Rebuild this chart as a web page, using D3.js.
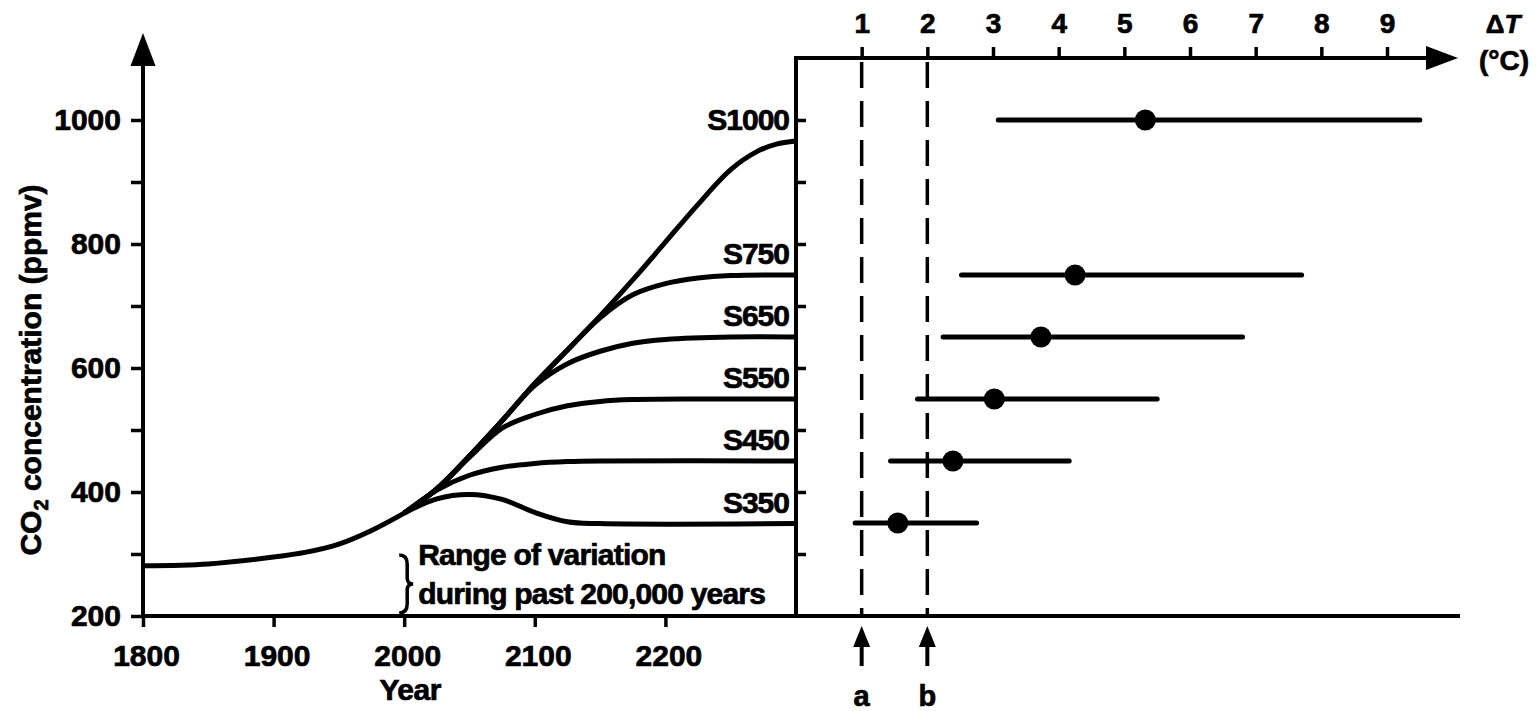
<!DOCTYPE html>
<html>
<head>
<meta charset="utf-8">
<script src="https://cdn.jsdelivr.net/npm/d3@7"></script>
<style>
  body { margin: 0; background: #fff; }
  svg { display: block; }
  text { font-family: "Liberation Sans", Arial, Helvetica, sans-serif; font-weight: bold; fill: #000; stroke: #000; stroke-width: 0.7px; }
  .axis path, .axis line { stroke: #000; stroke-width: 3.5; }
  .curve { fill: none; stroke: #000; stroke-width: 5; }
</style>
</head>
<body>
<script>
// historical concentration, ppmv
const histYears = [1800, 1850, 1900, 1925, 1950, 1975, 2000];
const histCO2 = [281, 284, 295, 303, 316, 338, 366];

// stabilisation profiles
const scenNames = ['S1000', 'S750', 'S650', 'S550', 'S450', 'S350'];
const s1000Years = [2000, 2025, 2050, 2075, 2100, 2125, 2150, 2175, 2200, 2225, 2250, 2270, 2285, 2300];
const s1000CO2 = [366, 405, 458, 515, 575, 629, 684, 742, 803, 864, 920, 949, 961, 966];
const s750Years = [2000, 2025, 2050, 2075, 2100, 2125, 2150, 2175, 2200, 2225, 2250, 2300];
const s750CO2 = [366, 405, 458, 515, 575, 629, 681, 718, 736, 745, 749, 750];
const s650Years = [2000, 2025, 2050, 2075, 2100, 2125, 2150, 2175, 2200, 2250, 2300];
const s650CO2 = [366, 405, 458, 515, 572, 607, 627, 640, 646, 650, 650];
const s550Years = [2000, 2025, 2050, 2075, 2100, 2125, 2150, 2175, 2225, 2300];
const s550CO2 = [366, 405, 456, 503, 525, 539, 546, 549, 550, 550];
const s450Years = [2000, 2025, 2050, 2075, 2100, 2125, 2150, 2300];
const s450CO2 = [366, 403, 427, 440, 446, 449, 450, 450];
const s350Years = [2000, 2025, 2050, 2075, 2100, 2125, 2150, 2300];
const s350CO2 = [366, 389, 396, 388, 367, 352, 349, 349];

// equilibrium warming ranges (deg C) at each stabilisation level
const stabLevels = [1000, 750, 650, 550, 450, 350];
const dtLow = [3.08, 2.52, 2.24, 1.85, 1.44, 0.9];
const dtBest = [5.32, 4.25, 3.73, 3.02, 2.39, 1.55];
const dtHigh = [9.5, 7.7, 6.8, 5.5, 4.16, 2.75];

// axes
const yearTicks = [1800, 1900, 2000, 2100, 2200];
const co2Ticks = [200, 300, 400, 500, 600, 700, 800, 900, 1000];
const co2Labels = ['200', '', '400', '', '600', '', '800', '', '1000'];
const boxTicks = [300, 400, 500, 600, 700, 800, 900, 1000];
const dtTicks = [1, 2, 3, 4, 5, 6, 7, 8, 9];
const markValues = [1, 2];
const markLabels = ['a', 'b'];
const braceRange = [200, 300];

const width = 1539, height = 711;
const margin = { top: 58, left: 143, bottom: 95 };

const svg = d3.select('body').append('svg').attr('width', width).attr('height', height);

const x = d3.scaleLinear().domain([1800, 2300]).range([143, 796]);
const y = d3.scaleLinear().domain([200, 1000]).range([616, 120]);
const dt = d3.scaleLinear().domain([0, 9]).range([796, 1387]);

const x0 = x.range()[0], x1 = x.range()[1];
const yBase = y(200);
const rightEnd = 1458;

// left y axis
const yAxis = svg.append('g').attr('class', 'axis')
  .attr('transform', `translate(${x0},0)`)
  .call(d3.axisLeft(y).tickValues(co2Ticks).tickSize(12).tickPadding(10)
    .tickFormat((d, i) => co2Labels[i]))
  .call(g => g.select('.domain').remove());
yAxis.selectAll('text').style('font-size', '30px');

svg.append('line').attr('x1', x0).attr('x2', x0).attr('y1', 60).attr('y2', yBase)
  .attr('stroke', '#000').attr('stroke-width', 4);
svg.append('path')
  .attr('d', `M${x0},33 L${x0 + 12.5},66 L${x0 - 12.5},66 Z`);

// bottom year axis
const xAxis = svg.append('g').attr('class', 'axis')
  .attr('transform', `translate(0,${yBase})`)
  .call(d3.axisBottom(x).tickValues(yearTicks).tickSize(11).tickPadding(18).tickFormat(d3.format('d')))
  .call(g => g.select('.domain').remove());
xAxis.selectAll('text').style('font-size', '30px').attr('dx', 3);

svg.append('line').attr('x1', x0 - 2).attr('x2', rightEnd + 2).attr('y1', yBase).attr('y2', yBase)
  .attr('stroke', '#000').attr('stroke-width', 4);

svg.append('text').attr('x', x(2000) + 6).attr('y', 700).attr('text-anchor', 'middle')
  .style('font-size', '30px').attr('letter-spacing', '-0.5').text('Year');

// y title
const yTitle = svg.append('text')
  .attr('transform', `translate(41,370) rotate(-90)`)
  .attr('text-anchor', 'middle')
  .style('font-size', '30px');
yTitle.append('tspan').text('CO');
yTitle.append('tspan').attr('dy', 7).style('font-size', '20px').text('2');
yTitle.append('tspan').attr('dy', -7).text(' concentration (ppmv)');

// concentration curves
const line = d3.line().x(d => x(d[0])).y(d => y(d[1])).curve(d3.curveCatmullRom.alpha(0.5));
const series = [
  d3.zip(s1000Years, s1000CO2),
  d3.zip(s750Years, s750CO2),
  d3.zip(s650Years, s650CO2),
  d3.zip(s550Years, s550CO2),
  d3.zip(s450Years, s450CO2),
  d3.zip(s350Years, s350CO2)
];
svg.append('path').attr('class', 'curve').attr('d', line(d3.zip(histYears, histCO2)));
svg.append('g').selectAll('path').data(series).join('path')
  .attr('class', 'curve').attr('d', line);

svg.append('g').selectAll('text').data(series).join('text')
  .attr('x', 789)
  .attr('y', d => y(d[d.length - 1][1]) - 11)
  .attr('text-anchor', 'end')
  .style('font-size', '30px').attr('letter-spacing', '-1')
  .text((d, i) => scenNames[i]);

// brace and note
const bx = x(2000) - 5;
const bTop = y(braceRange[1]) + 1, bBot = y(braceRange[0]) - 3, bMid = (bTop + bBot) / 2;
const brace = d3.path();
brace.moveTo(bx, bTop);
brace.quadraticCurveTo(bx + 8, bTop, bx + 8, bTop + 9);
brace.lineTo(bx + 8, bMid - 6);
brace.quadraticCurveTo(bx + 8, bMid, bx + 14, bMid);
brace.quadraticCurveTo(bx + 8, bMid, bx + 8, bMid + 6);
brace.lineTo(bx + 8, bBot - 9);
brace.quadraticCurveTo(bx + 8, bBot, bx, bBot);
svg.append('path').attr('d', brace.toString())
  .attr('fill', 'none').attr('stroke', '#000').attr('stroke-width', 3.5);

const note = svg.append('text').style('font-size', '30px').attr('letter-spacing', '-0.8');
note.append('tspan').attr('x', bx + 19).attr('y', 565).text('Range of variation');
note.append('tspan').attr('x', bx + 19).attr('y', 604).text('during past 200,000 years');

// right panel: box edge, top temperature axis
svg.append('line').attr('x1', x1).attr('x2', x1).attr('y1', margin.top - 2).attr('y2', yBase)
  .attr('stroke', '#000').attr('stroke-width', 4);
svg.append('g').attr('class', 'axis')
  .attr('transform', `translate(${x1},0)`)
  .call(d3.axisRight(y).tickValues(boxTicks).tickSize(10).tickFormat(''))
  .call(g => g.select('.domain').remove());

const dtAxis = svg.append('g').attr('class', 'axis')
  .attr('transform', `translate(0,${margin.top})`)
  .call(d3.axisTop(dt).tickValues(dtTicks).tickSize(11).tickPadding(14))
  .call(g => g.select('.domain').remove());
dtAxis.selectAll('text').style('font-size', '28px');

svg.append('line').attr('x1', x1 - 2).attr('x2', rightEnd - 20).attr('y1', margin.top).attr('y2', margin.top)
  .attr('stroke', '#000').attr('stroke-width', 4);
svg.append('path')
  .attr('d', `M${rightEnd},${margin.top} L${rightEnd - 32},${margin.top - 12} L${rightEnd - 32},${margin.top + 12} Z`);

const dtLabel = svg.append('text').attr('x', 1503).attr('y', 33).attr('text-anchor', 'middle')
  .style('font-size', '26px');
dtLabel.append('tspan').text('\u0394');
dtLabel.append('tspan').style('font-style', 'italic').text('T');
svg.append('text').attr('x', 1504).attr('y', 70).attr('text-anchor', 'middle')
  .style('font-size', '28px').text('(\u00b0C)');

// dashed reference lines with arrows
svg.append('g').selectAll('line').data(markValues).join('line')
  .attr('x1', d => dt(d)).attr('x2', d => dt(d))
  .attr('y1', margin.top + 4).attr('y2', yBase - 2)
  .attr('stroke', '#000').attr('stroke-width', 3.5).attr('stroke-dasharray', '26,13');

const marks = svg.append('g').selectAll('g').data(markValues).join('g')
  .attr('transform', d => `translate(${dt(d)},0)`);
marks.append('path').attr('d', 'M0,626 L8.5,647 L-8.5,647 Z');
marks.append('line').attr('y1', 640).attr('y2', 666).attr('stroke', '#000').attr('stroke-width', 4);
marks.append('text').attr('y', 706).attr('text-anchor', 'middle')
  .style('font-size', '29px').text((d, i) => markLabels[i]);

// warming ranges
const bars = svg.append('g').selectAll('g').data(stabLevels).join('g')
  .attr('transform', d => `translate(0,${y(d)})`);
bars.append('line')
  .attr('x1', (d, i) => dt(dtLow[i])).attr('x2', (d, i) => dt(dtHigh[i]))
  .attr('stroke', '#000').attr('stroke-width', 5).attr('stroke-linecap', 'round');
bars.append('circle')
  .attr('cx', (d, i) => dt(dtBest[i])).attr('r', 10.5);
</script>
</body>
</html>
